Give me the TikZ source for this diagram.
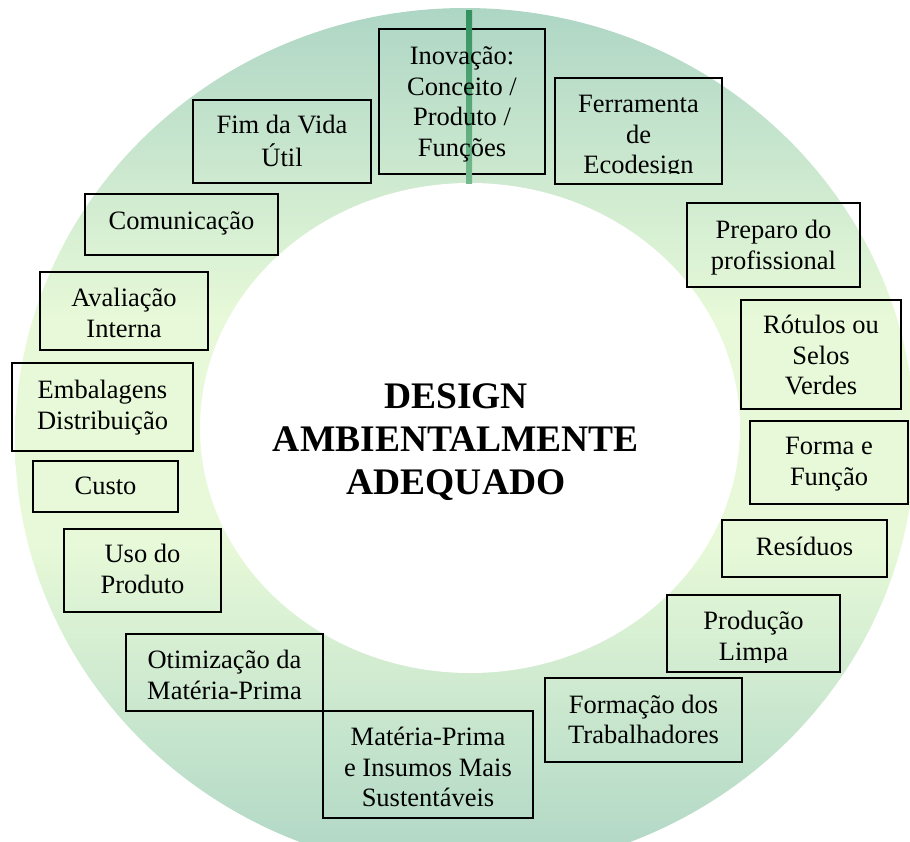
\documentclass[tikz,border=0pt]{standalone}
\usepackage{fontspec}
\setmainfont{Liberation Serif}

\definecolor{ringedge}{RGB}{174,214,197}
\definecolor{ringmid}{RGB}{231,249,216}
\definecolor{axisdark}{RGB}{50,145,95}
\definecolor{axislight}{RGB}{118,186,142}

% vertical gradient of the ring: teal at top and bottom, pale green in the middle
% (the shaded path occupies the 25bp..75bp band of the shading)
\pgfdeclareverticalshading{ringshade}{100bp}{
  color(0bp)=(ringedge); color(25bp)=(ringedge); color(44bp)=(ringmid);
  color(57bp)=(ringmid); color(75bp)=(ringedge); color(100bp)=(ringedge)}

\tikzset{
  box/.style={draw=black, line width=1.8pt, inner sep=0pt},
  lbl/.style={font=\fontsize{26.5}{30.5}\selectfont, align=center, inner sep=0pt, text=black},
  headline/.style={font=\fontsize{37.5}{43}\selectfont\bfseries, align=center, inner sep=0pt, text=black},
}

\begin{document}
\begin{tikzpicture}[x=1pt, y=-1pt]
\useasboundingbox (0,0) rectangle (910,841);

% green ring
\begin{scope}[y=1pt]
  \clip (0,0) rectangle (910,-841);
  \shade[shading=ringshade] (465,-440) ellipse [x radius=450, y radius=432];
  \fill[white] (470,-428) ellipse [x radius=270, y radius=245];
\end{scope}

% frames
\node[box, minimum width=166pt, minimum height=145pt] (inov)  at (462,101.5) {};
\node[box, minimum width=167pt, minimum height=106pt] (ferr)  at (638.5,131) {};
\node[box, minimum width=173pt, minimum height=84pt]  (prep)  at (773.5,245) {};
\node[box, minimum width=160pt, minimum height=109pt] (rot)   at (821,354.5) {};
\node[box, minimum width=158pt, minimum height=83pt]  (forma) at (829,462.5) {};
\node[box, minimum width=165pt, minimum height=57pt]  (res)   at (804.5,548.5) {};
\node[box, minimum width=173pt, minimum height=77pt]  (prod)  at (753.5,633.5) {};
\node[box, minimum width=197pt, minimum height=84pt]  (trab)  at (643.5,720) {};
\node[box, minimum width=210pt, minimum height=107pt] (mat)   at (428,764.5) {};
\node[box, minimum width=197pt, minimum height=77pt]  (otim)  at (224.5,672.5) {};
\node[box, minimum width=157pt, minimum height=83pt]  (uso)   at (142.5,570.5) {};
\node[box, minimum width=145pt, minimum height=51pt]  (custo) at (105.5,486.5) {};
\node[box, minimum width=181pt, minimum height=88pt]  (emb)   at (102.5,407) {};
\node[box, minimum width=168pt, minimum height=78pt]  (aval)  at (124,311) {};
\node[box, minimum width=193pt, minimum height=61pt]  (com)   at (181.5,224.5) {};
\node[box, minimum width=178pt, minimum height=83pt]  (fim)   at (282,141.5) {};

% vertical axis through the top frame
\shade[top color=axisdark, bottom color=axislight] (466,10) rectangle (472,183);

% labels
\node[lbl] (inovt) at (462,104.5) {\strut Inovação:\\Conceito /\\Produto /\\Funções\strut};
\begin{scope}
  \clip (555,78) rectangle (722,173);
  \node[lbl] (ferrt) at (638.5,137) {\strut Ferramenta\\de\\Ecodesign\strut};
\end{scope}
\node[lbl] (prept)  at (773.5,248) {\strut Preparo do\\profissional\strut};
\node[lbl] (rott)   at (821,358)   {\strut Rótulos ou\\Selos\\Verdes\strut};
\node[lbl] (format) at (829,464)   {\strut Forma e\\Função\strut};
\node[lbl] (rest)   at (804.5,549) {\strut Resíduos\strut};
\begin{scope}
  \clip (667,595) rectangle (840,662);
  \node[lbl] (prodt) at (753.5,639) {\strut Produção\\Limpa\strut};
\end{scope}
\node[lbl] (trabt)  at (643.5,722.5) {\strut Formação dos\\Trabalhadores\strut};
\node[lbl] (matt)   at (428,770)     {\strut Matéria-Prima\\e Insumos Mais\\Sustentáveis\strut};
\node[lbl] (otimt)  at (224.5,678)   {\strut Otimização da\\Matéria-Prima\strut};
\node[lbl] (usot)   at (142.5,572)   {\strut Uso do\\Produto\strut};
\node[lbl] (custot) at (105.5,488)   {\strut Custo\strut};
\node[lbl] (embt)   at (102.5,408)   {\strut Embalagens\\Distribuição\strut};
\node[lbl] (avalt)  at (124,316)     {\strut Avaliação\\Interna\strut};
\node[lbl] (comt)   at (181.5,223)   {\strut Comunicação\strut};
\node[lbl] (fimt)   at (282,144)     {\strut Fim da Vida\\Útil\strut};

% central title
\node[headline] (title) at (456,442.6) {\strut DESIGN\\AMBIENTALMENTE\\ADEQUADO\strut};
\end{tikzpicture}
\end{document}
